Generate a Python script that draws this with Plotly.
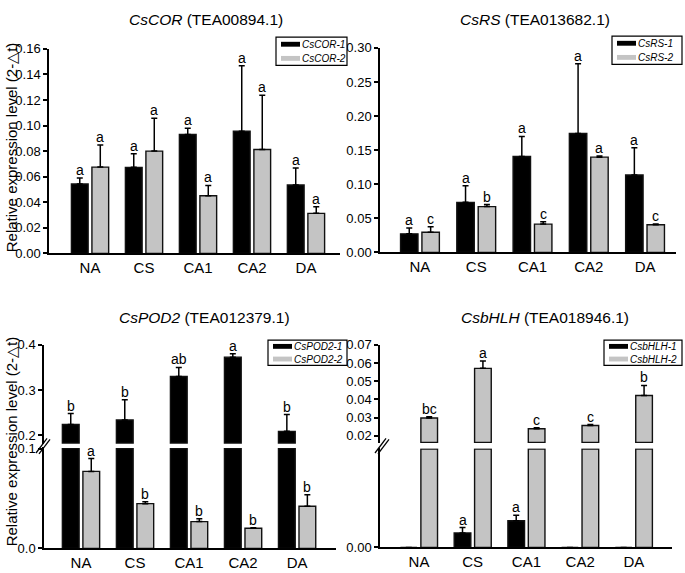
import plotly.graph_objects as go

W, H = 685, 573

categories = ["NA", "CS", "CA1", "CA2", "DA"]

# CsCOR
cor1 = [0.0543, 0.0673, 0.0930, 0.0955, 0.0535]
cor1_err = [0.0046, 0.0107, 0.0048, 0.0513, 0.0132]
cor2 = [0.0675, 0.0800, 0.0451, 0.0813, 0.0313]
cor2_err = [0.0173, 0.0257, 0.0081, 0.0425, 0.0051]
cor1_sig = ["a", "a", "a", "a", "a"]
cor2_sig = ["a", "a", "a", "a", "a"]

# CsRS
rs1 = [0.0272, 0.0734, 0.1407, 0.1745, 0.1135]
rs1_err = [0.0086, 0.0244, 0.0295, 0.1021, 0.0401]
rs2 = [0.0296, 0.0672, 0.0415, 0.1397, 0.0405]
rs2_err = [0.0081, 0.0029, 0.0033, 0.0019, 0.0010]
rs1_sig = ["a", "a", "a", "a", "a"]
rs2_sig = ["c", "b", "c", "a", "c"]

# CsPOD2
pod1 = [0.2236, 0.2336, 0.3300, 0.3729, 0.2086]
pod1_err = [0.0243, 0.0450, 0.0200, 0.0078, 0.0371]
pod2 = [0.0772, 0.0449, 0.0269, 0.0202, 0.0423]
pod2_err = [0.0129, 0.0019, 0.0029, 0.0006, 0.0115]
pod1_sig = ["b", "b", "ab", "a", "b"]
pod2_sig = ["a", "b", "b", "b", "b"]

# CsbHLH
bhlh1 = [0.0, 0.00148, 0.00272, 0.0, 0.0]
bhlh1_err = [0.0, 0.00055, 0.00056, 0.0, 0.0]
bhlh2 = [0.0298, 0.0571, 0.0239, 0.0257, 0.0422]
bhlh2_err = [0.0007, 0.0040, 0.0006, 0.0005, 0.0055]
bhlh1_sig = ["", "a", "a", "", ""]
bhlh2_sig = ["bc", "a", "c", "c", "b"]

FONT = "Arial, Liberation Sans, sans-serif"
BLACK = "#000000"
GRAY = "#c4c4c4"
EDGE = "#111111"
BW = 0.31
OFF1, OFF2 = -0.345, 0.035
XPOS = list(range(len(categories)))


def px(x):
    return x / W


def py(y):
    return 1 - y / H


fig = go.Figure()


def add_series(xa, ya, vals, errs, color, off, sigs=None, base=None, cap=None, err=True):
    yv = []
    for v in vals:
        if cap is not None:
            v = min(v, cap)
        if base is not None:
            v = v - base
        yv.append(v)
    kw = {}
    if base is not None:
        kw["base"] = base
    tr = go.Bar(
        x=XPOS, y=yv, xaxis=xa, yaxis=ya, width=BW, offset=off,
        marker=dict(color=color, line=dict(color=EDGE, width=1.4)),
        showlegend=False, hoverinfo="skip", **kw,
    )
    if err:
        tr.error_y = dict(type="data", array=errs, arrayminus=[0] * len(errs),
                          symmetric=False, color="black", thickness=1.5, width=3)
    fig.add_trace(tr)
    if sigs:
        for i, s in enumerate(sigs):
            if not s:
                continue
            fig.add_annotation(x=XPOS[i] + off + BW / 2, y=vals[i] + errs[i],
                               xref=xa, yref=ya, text=s, showarrow=False,
                               yanchor="bottom", yshift=-2,
                               font=dict(family=FONT, size=14, color="black"))


# Panel 1
add_series("x", "y", cor1, cor1_err, BLACK, OFF1, cor1_sig)
add_series("x", "y", cor2, cor2_err, GRAY, OFF2, cor2_sig)
# Panel 2
add_series("x2", "y2", rs1, rs1_err, BLACK, OFF1, rs1_sig)
add_series("x2", "y2", rs2, rs2_err, GRAY, OFF2, rs2_sig)
# Panel 3 (broken axis)
POD_UP_MIN, POD_UP_BASE, POD_LOW_TOP = 0.180, 0.1825, 0.1
add_series("x3", "y3", pod1, pod1_err, BLACK, OFF1, pod1_sig, base=POD_UP_BASE)
add_series("x3", "y4", pod1, pod1_err, BLACK, OFF1, None, cap=POD_LOW_TOP, err=False)
add_series("x3", "y4", pod2, pod2_err, GRAY, OFF2, pod2_sig)
# Panel 4 (broken axis)
B_UP_MIN, B_UP_BASE, B_LOW_TOP = 0.0159, 0.0164, 0.01
add_series("x4", "y5", bhlh2, bhlh2_err, GRAY, OFF2, bhlh2_sig, base=B_UP_BASE)
add_series("x4", "y6", bhlh2, bhlh2_err, GRAY, OFF2, None, cap=B_LOW_TOP, err=False)
add_series("x4", "y6", bhlh1, bhlh1_err, BLACK, OFF1, bhlh1_sig)

axis_common = dict(showline=True, linecolor="black", linewidth=1.5, showgrid=False,
                   zeroline=False, tickfont=dict(family=FONT, size=13, color="black"))
xcommon = dict(axis_common, ticks="", tickvals=XPOS, ticktext=categories,
               tickfont=dict(family=FONT, size=15, color="black"))
ycommon = dict(axis_common, ticks="outside", ticklen=4, tickwidth=1.5, tickcolor="black")

fig.update_layout(
    width=W, height=H, margin=dict(l=0, r=0, t=0, b=0),
    paper_bgcolor="white", plot_bgcolor="white",
    barmode="overlay",
    xaxis=dict(xcommon, domain=[px(49), px(340)], range=[-0.76, 4.63], anchor="y"),
    yaxis=dict(ycommon, domain=[py(253), py(43)], range=[0, 0.16], dtick=0.02,
               tickformat=".2f", anchor="x"),
    xaxis2=dict(xcommon, domain=[px(380), px(676)], range=[-0.71, 4.55], anchor="y2"),
    yaxis2=dict(ycommon, domain=[py(252), py(42)], range=[0, 0.30], dtick=0.05,
                tickformat=".2f", anchor="x2"),
    xaxis3=dict(xcommon, domain=[px(44), px(336)], range=[-0.685, 4.72], anchor="y4"),
    yaxis3=dict(ycommon, domain=[py(449), py(347)], range=[POD_UP_MIN, 0.4],
                tickvals=[0.2, 0.3, 0.4], tickformat=".1f", anchor="x3"),
    yaxis4=dict(ycommon, domain=[py(556), py(452)], range=[0, 0.1015],
                tickvals=[0.0, 0.1], tickformat=".1f", anchor="x3"),
    xaxis4=dict(xcommon, domain=[px(380), px(672)], range=[-0.726, 4.71], anchor="y6"),
    yaxis5=dict(ycommon, domain=[py(448), py(347)], range=[B_UP_MIN, 0.07],
                tickvals=[0.02, 0.03, 0.04, 0.05, 0.06, 0.07], tickformat=".2f", anchor="x4"),
    yaxis6=dict(ycommon, domain=[py(555), py(453)], range=[0, 0.0101],
                tickvals=[0.0], tickformat=".2f", anchor="x4"),
)

# Titles
titles = [
    ("<i>CsCOR</i> (TEA00894.1)", 206, 13),
    ("<i>CsRS</i> (TEA013682.1)", 535, 13),
    ("<i>CsPOD2</i> (TEA012379.1)", 204, 319),
    ("<i>CsbHLH</i> (TEA018946.1)", 545, 319),
]
for t, x, y in titles:
    fig.add_annotation(x=px(x), y=py(y), xref="paper", yref="paper", text=t,
                       showarrow=False, xanchor="center", yanchor="middle",
                       font=dict(family=FONT, size=15.5, color="black"))

# Y axis titles
for x, y in [(11, 144), (11, 446)]:
    fig.add_annotation(x=px(x), y=py(y), xref="paper", yref="paper",
                       text="Relative expression level (2-△t)", textangle=-90,
                       showarrow=False, xanchor="center", yanchor="middle",
                       font=dict(family=FONT, size=15, color="black"))

# Legends (box, swatches, labels)
legends = [
    (276, 31, 347, 60, ["CsCOR-1", "CsCOR-2"]),
    (612, 30, 682, 59, ["CsRS-1", "CsRS-2"]),
    (268, 342, 347, 368, ["CsPOD2-1", "CsPOD2-2"]),
    (604, 342, 682, 368, ["CsbHLH-1", "CsbHLH-2"]),
]
for x0, y0, x1, y1, labels in legends:
    fig.add_shape(type="rect", xref="paper", yref="paper",
                  x0=px(x0), x1=px(x1), y0=py(y1), y1=py(y0),
                  line=dict(color="black", width=1.2), fillcolor="white")
    hrow = (y1 - y0) / 2
    for k, (lab, col) in enumerate(zip(labels, [BLACK, GRAY])):
        cy = y0 + hrow * (k + 0.5)
        fig.add_shape(type="rect", xref="paper", yref="paper",
                      x0=px(x0 + 5), x1=px(x0 + 24), y0=py(cy + 2.5), y1=py(cy - 2.5),
                      line=dict(width=0), fillcolor=col)
        fig.add_annotation(x=px(x0 + 24), y=py(cy), xref="paper", yref="paper",
                           text=f"<i>{lab}</i>", showarrow=False, xanchor="left",
                           yanchor="middle",
                           font=dict(family=FONT, size=10, color="black"))

# Axis break marks
for bx, by in [(36, 458), (375, 458)]:
    for d in (0, 3):
        fig.add_shape(type="line", xref="paper", yref="paper",
                      x0=px(bx + d), y0=py(by + d * 0.3),
                      x1=px(bx + d + 11), y1=py(by + d * 0.3 - 15),
                      line=dict(color="black", width=1.3))

fig.write_html("out.html", config={"displayModeBar": False},
               post_script="document.body.style.margin='0';document.body.style.overflow='hidden';")
